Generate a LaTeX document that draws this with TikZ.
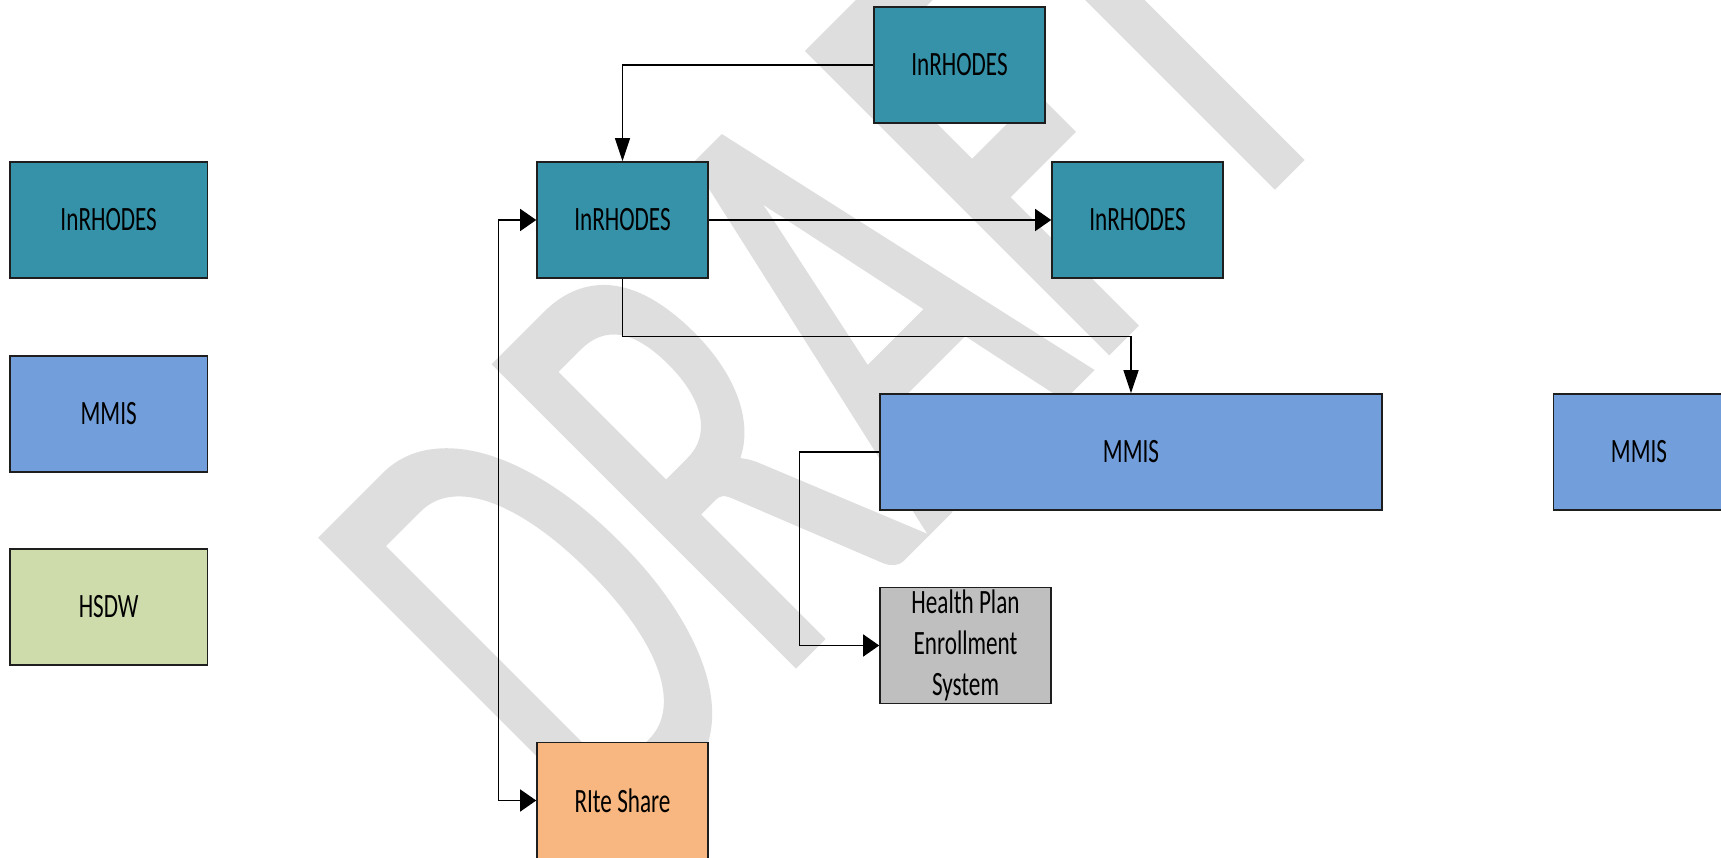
\documentclass[tikz,border=0pt]{standalone}
\usepackage{fontspec}
\usepackage{tikz}
\usetikzlibrary{arrows.meta, positioning}
\setmainfont{Carlito}
\newfontfamily\boxfont[FakeStretch=0.68]{Carlito}
\newfontfamily\draftfont[FakeStretch=0.6,FakeBold=1]{Carlito}
\definecolor{inrteal}{HTML}{3592A9}
\definecolor{mmisblue}{HTML}{729EDB}
\definecolor{hsdwgreen}{HTML}{CEDCAB}
\definecolor{hpesgray}{HTML}{BFBFBF}
\definecolor{riteorange}{HTML}{F8B780}
\definecolor{draftgray}{HTML}{DEDEDE}
\definecolor{boxline}{HTML}{1E1E1E}

\begin{document}
\begin{tikzpicture}[
  sysbox/.style={draw=boxline, line width=0.45pt, inner sep=0pt, align=center,
    font=\boxfont\fontsize{9.7}{11.7}\selectfont,
    minimum width=1.71cm, minimum height=1.16cm},
  keybox/.style={sysbox, minimum width=1.975cm},
  flow/.style={draw=black, line width=0.35pt, -{Triangle[length=0.16cm, width=0.22cm]}},
  flowdown/.style={draw=black, line width=0.35pt, -{Triangle[length=0.23cm, width=0.15cm]}},
  flowboth/.style={draw=black, line width=0.35pt,
    {Triangle[length=0.16cm, width=0.22cm]}-{Triangle[length=0.16cm, width=0.22cm]}}
]
  \useasboundingbox (0,0) rectangle (17.21,-8.58);
  \clip (0,0) rectangle (17.21,-8.58);

  % Watermark
  \node[draftgray, rotate=45, anchor=base west, inner sep=0pt,
    font=\draftfont\fontsize{188}{188}\selectfont] (draft) at (6.03,-8.57) {DRAFT};

  % Legend
  \node[keybox, fill=inrteal] (inLegend) at (1.087,-2.20) {InRHODES};
  \node[keybox, fill=mmisblue] (mmisLegend) at (1.087,-4.14) {MMIS};
  \node[keybox, fill=hsdwgreen] (hsdwLegend) at (1.087,-6.07) {HSDW};

  % Systems
  \node[sysbox, fill=inrteal] (inTop) at (9.595,-0.65) {InRHODES};
  \node[sysbox, fill=inrteal] (inMid) at (6.225,-2.20) {InRHODES};
  \node[sysbox, fill=inrteal] (inRight) at (11.375,-2.20) {InRHODES};
  \node[sysbox, fill=mmisblue, minimum width=5.02cm] (mmisMain) at (11.31,-4.52) {MMIS};
  \node[sysbox, fill=mmisblue] (mmisFar) at (16.39,-4.52) {MMIS};
  \node[sysbox, fill=hpesgray] (hpes) at (9.655,-6.455) {Health Plan\\Enrollment\\System};
  \node[sysbox, fill=riteorange] (riteShare) at (6.225,-8.005) {RIte Share};

  % Connectors
  \draw[flowdown] (inTop.west) -| (inMid.north);
  \draw[flow] (inMid.east) -- (inRight.west);
  \draw[flowdown] (inMid.south) -- ++(0,-0.58) -| (mmisMain.north);
  \draw[flow] (mmisMain.west) -- ++(-0.80,0) |- (hpes.west);
  \draw[flowboth] (inMid.west) -- ++(-0.38,0) |- (riteShare.west);
\end{tikzpicture}
\end{document}
